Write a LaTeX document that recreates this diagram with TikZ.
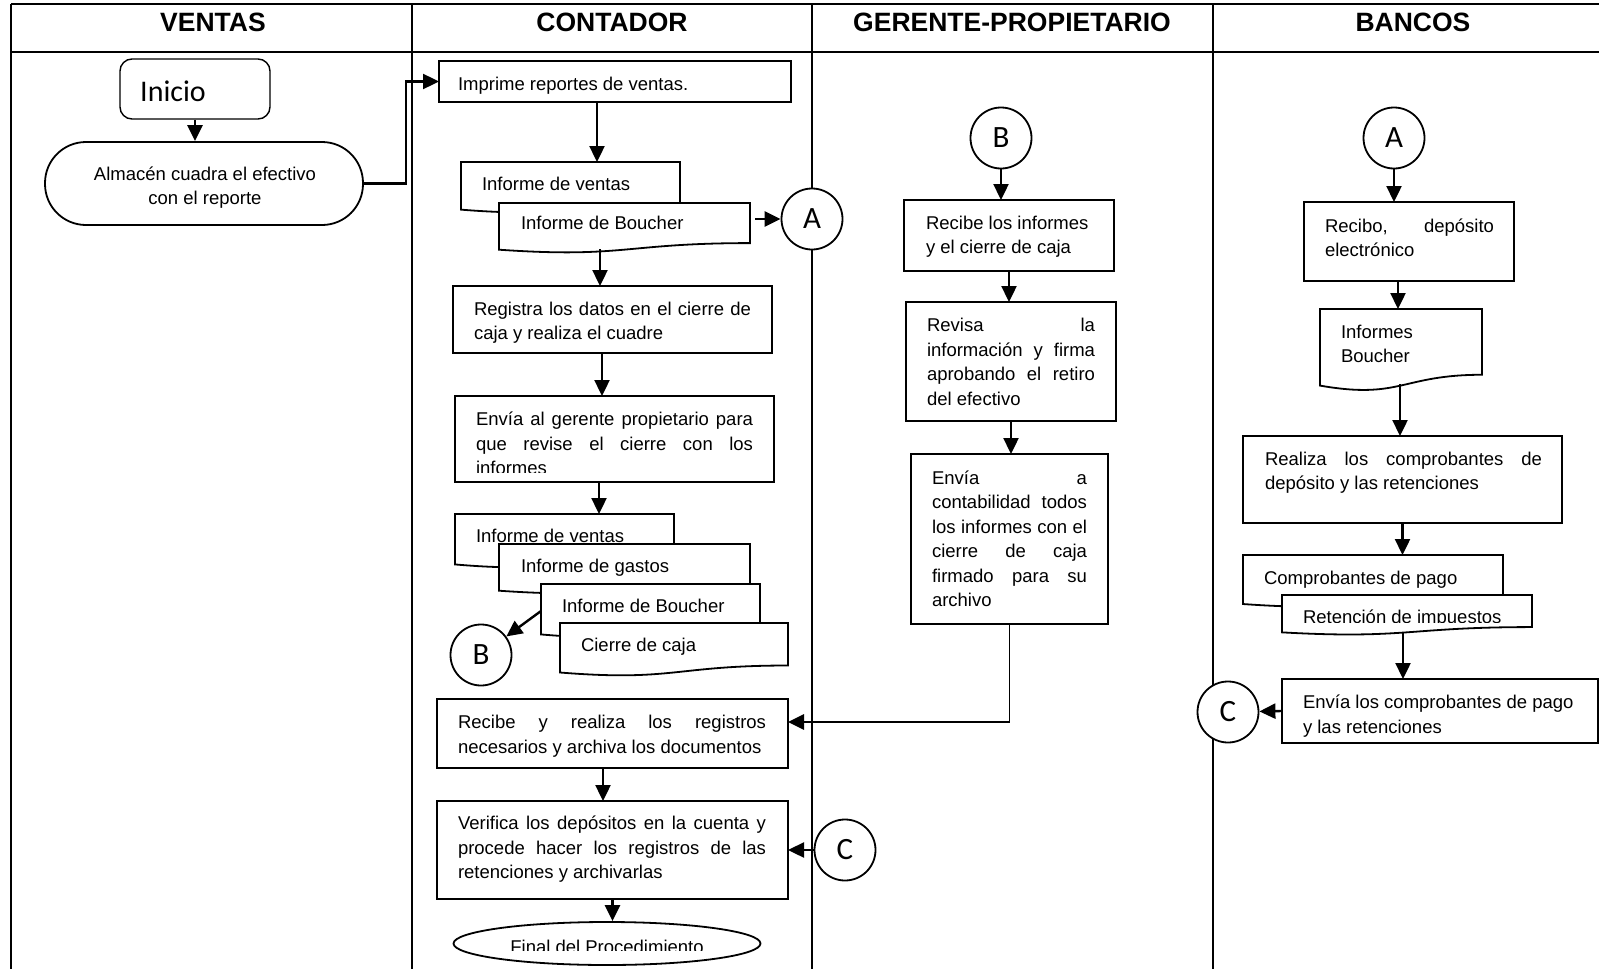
\documentclass[tikz,border=0pt]{standalone}
\usepackage{fontspec}
\setmainfont{Liberation Sans}
\newfontfamily\calfont{Carlito}
\usetikzlibrary{arrows.meta,calc,shapes.geometric}

\newcommand\bodyfont{\fontsize{18.5}{24.5}\selectfont}
% a justified line of given width (pt)
\newcommand\jl[2]{\makebox[#1pt][s]{#2}}

\tikzset{
  lane/.style={line width=2pt},
  procbox/.style={draw, line width=1.8pt, fill=white, rectangle, inner sep=0, outer sep=0},
  docnode/.style={rectangle, inner sep=0, outer sep=0},
  docline/.style={draw, line width=1.8pt, fill=white},
  conn/.style={line width=2.4pt, -{Triangle[length=16pt,width=15pt]}},
  plainline/.style={line width=1.8pt},
  circ/.style={draw, circle, line width=1.8pt, fill=white, minimum size=61pt, inner sep=0,
    font=\calfont\fontsize{31}{31}\selectfont},
  txt/.style={anchor=north west, inner sep=0, outer sep=0, align=left, font=\bodyfont},
  head/.style={inner sep=0, font=\bfseries\fontsize{26.5}{30}\selectfont},
}

% process box from its corners: name, x1, y1, x2, y2
\newcommand\procbox[5]{%
  \node[procbox, minimum width={#4-#2}, minimum height={#5-#3}] (#1) at ({(#2+#4)/2},{(#3+#5)/2}) {};}
% document shape: name, x1, x2, top, height
\newcommand\docbox[5]{%
  \node[docnode, minimum width={#3-#2}, minimum height={#5}] (#1) at ({(#2+#3)/2},{#4+#5/2}) {};
  \draw[docline] (#1.north west) -- (#1.north east)
    -- ($(#1.north east)!0.802!(#1.south east)$)
    .. controls ($(#1.north)!0.802!(#1.south)$) and ($(#1.north)!1.107!(#1.south)$)
    .. ($(#1.north west)!0.934!(#1.south west)$) -- cycle;}

\begin{document}
\begin{tikzpicture}[x=1pt, y=-1pt]
\useasboundingbox (0,0) rectangle (1599,969);

% swimlane grid
\draw[lane] (11,4) -- (1599,4);
\draw[lane] (11,52) -- (1599,52);
\foreach \lx in {11,412,812,1213} \draw[lane] (\lx,4) -- (\lx,969);

\node[head] (hV) at (213,22.5) {VENTAS};
\node[head] (hC) at (612,22.5) {CONTADOR};
\node[head] (hG) at (1012,22.5) {GERENTE-PROPIETARIO};
\node[head] (hB) at (1413,22.5) {BANCOS};

% ---------------- VENTAS
\node[draw, line width=1.4pt, rounded corners=12pt, minimum width=150pt, minimum height=60pt,
  inner sep=0, fill=white] (inicio) at (195,89) {};
\node[anchor=west, inner sep=0, font=\calfont\fontsize{30}{30}\selectfont] (inicioT) at (140,91) {Inicio};
\node[draw, line width=1.8pt, rounded corners=41pt, minimum width=318pt, minimum height=83pt,
  inner sep=0, fill=white] (almacen) at (204,183.5) {};
\node[txt, anchor=north, align=center] (almacenT) at (205,163) {\strut Almacén cuadra el efectivo\\con el reporte};

% ---------------- CONTADOR
\procbox{imprime}{439}{61}{791}{102}
\node[txt] (imprimeT) at (458,73.5) {\strut Imprime reportes de ventas.};

\docbox{dV1}{461}{680}{162}{51}
\docbox{dB1}{499}{750}{203}{50}
\node[txt] (dV1T) at (482,173.5) {\strut Informe de ventas};
\node[txt] (dB1T) at (521,212.5) {\strut Informe de Boucher};
\node[circ] (Aa) at (812,219) {A};

\procbox{registra}{453}{286}{772}{353}
\node[txt] (registraT) at (474,298) {\strut\jl{277}{Registra los datos en el cierre de}\\caja y realiza el cuadre};

\procbox{enviaC}{455}{396}{774}{482}
\begin{scope}
  \clip (455,396) rectangle (774,472);
  \node[txt] (enviaCT) at (476,408.5) {\strut\jl{277}{Envía al gerente propietario para}\\\jl{277}{que revise el cierre con los}\\informes};
\end{scope}

\docbox{dS1}{455}{674}{514}{54}
\docbox{dS2}{499}{750}{544}{50}
\docbox{dS3}{541}{760}{584}{54}
\docbox{dS4}{560}{788}{623}{53}
\node[txt] (dS1T) at (476,525.5) {\strut Informe de ventas};
\node[txt] (dS2T) at (521,555.5) {\strut Informe de gastos};
\node[txt] (dS3T) at (562,595.5) {\strut Informe de Boucher};
\node[txt] (dS4T) at (581,634.5) {\strut Cierre de caja};
\node[circ] (Bc) at (481,655) {B};

\procbox{recibeC}{437}{699}{788}{768}
\node[txt] (recibeCT) at (458,711.5) {\strut\jl{308}{Recibe y realiza los registros}\\necesarios y archiva los documentos};

\procbox{verifica}{437}{801}{788}{899}
\node[txt] (verificaT) at (458,812.5) {\strut\jl{308}{Verifica los depósitos en la cuenta y}\\\jl{308}{procede hacer los registros de las}\\retenciones y archivarlas};
\node[circ] (Cc) at (845,850) {C};

\node[draw, ellipse, line width=1.8pt, minimum width=307pt, minimum height=43pt, inner sep=0,
  fill=white] (final) at (607,943.5) {};
\begin{scope}
  \clip (450,920) rectangle (765,950);
  \node[inner sep=0, font=\bodyfont] (finalT) at (607,946.5) {Final del Procedimiento};
\end{scope}

% ---------------- GERENTE-PROPIETARIO
\node[circ] (Bg) at (1001,138) {B};
\procbox{recG}{904}{200}{1114}{271}
\node[txt] (recGT) at (926,212) {\strut Recibe los informes\\y el cierre de caja};
\procbox{revG}{906}{302}{1116}{421}
\node[txt] (revGT) at (927,314.5) {\strut\jl{168}{Revisa la}\\\jl{168}{información y firma}\\\jl{168}{aprobando el retiro}\\del efectivo};
\procbox{envG}{911}{454}{1108}{624}
\node[txt] (envGT) at (932,467) {\strut\jl{155}{Envía a}\\\jl{155}{contabilidad todos}\\\jl{155}{los informes con el}\\\jl{155}{cierre de caja}\\\jl{155}{firmado para su}\\archivo};

% ---------------- BANCOS
\node[circ] (Ab) at (1394,138) {A};
\procbox{recibo}{1304}{202}{1514}{281}
\node[txt] (reciboT) at (1325,215) {\strut\jl{169}{Recibo, depósito}\\electrónico};
\docbox{infD}{1320}{1482}{309}{82}
\node[txt] (infDT) at (1341,321) {\strut Informes\\Boucher};
\procbox{realiza}{1243}{436}{1562}{523}
\node[txt] (realizaT) at (1265,448) {\strut\jl{277}{Realiza los comprobantes de}\\depósito y las retenciones};
\docbox{compD}{1243}{1503}{555}{52.5}
\docbox{retD}{1282}{1532}{595}{40}
\node[txt] (compDT) at (1264,567.5) {\strut Comprobantes de pago};
\begin{scope}
  \clip (1282,595) rectangle (1532,622);
  \node[txt] (retDT) at (1303,606.5) {\strut Retención de impuestos};
\end{scope}
\procbox{envB}{1282}{679}{1598}{743}
\node[txt] (envBT) at (1303,691.5) {\strut Envía los comprobantes de pago\\y las retenciones};
\node[circ] (Cb) at (1228,712) {C};

% ---------------- connectors
\draw[conn] (inicio.south) -- (inicio.south |- almacen.north);
\draw[conn] (almacen.east) -- ++(42,0) |- (imprime.west);
\draw[conn] ([xshift=-18pt]imprime.south) -- ([xshift=-18pt]imprime.south |- dV1.north);
\draw[conn] ([xshift=5pt]dB1.east |- Aa.west) -- (Aa.west);
\draw[conn] ([xshift=-24.5pt,yshift=4pt]dB1.south) -- ([xshift=-24.5pt]dB1.south |- registra.north);
\draw[conn] ([xshift=-10.5pt]registra.south) -- ([xshift=-10.5pt]registra.south |- enviaC.north);
\draw[conn] ([xshift=-15.5pt]enviaC.south) -- ([xshift=-15.5pt]enviaC.south |- dS1.north);
\draw[conn] (dS3.west) -- (Bc);
\draw[plainline] (envG.south) |- ([xshift=40pt,yshift=11.5pt]recibeC.east) coordinate (jn);
\draw[conn, line width=2.8pt] (jn) -- ([yshift=11.5pt]recibeC.east);
\draw[conn] ([xshift=-9.5pt]recibeC.south) -- ([xshift=-9.5pt]recibeC.south |- verifica.north);
\draw[conn] (Cc.west) -- (Cc.west -| verifica.east);
\draw[conn] (verifica.south) -- (verifica.south |- final.north);

\draw[conn] (Bg.south) -- (Bg.south |- recG.north);
\draw[conn] (recG.south) -- (recG.south |- revG.north);
\draw[conn] (revG.south) -- (revG.south |- envG.north);

\draw[conn] (Ab.south) -- (Ab.south |- recibo.north);
\draw[conn] ([xshift=-11pt]recibo.south) -- ([xshift=-11pt]recibo.south |- infD.north);
\draw[conn] ([xshift=-1pt,yshift=7pt]infD.south) -- ([xshift=-1pt]infD.south |- realiza.north);
\draw[conn] (realiza.south) -- (realiza.south |- compD.north);
\draw[conn] ([xshift=-4pt,yshift=3pt]retD.south) -- ([xshift=-4pt]retD.south |- envB.north);
\draw[conn] (envB.west) -- (Cb);
\end{tikzpicture}
\end{document}
